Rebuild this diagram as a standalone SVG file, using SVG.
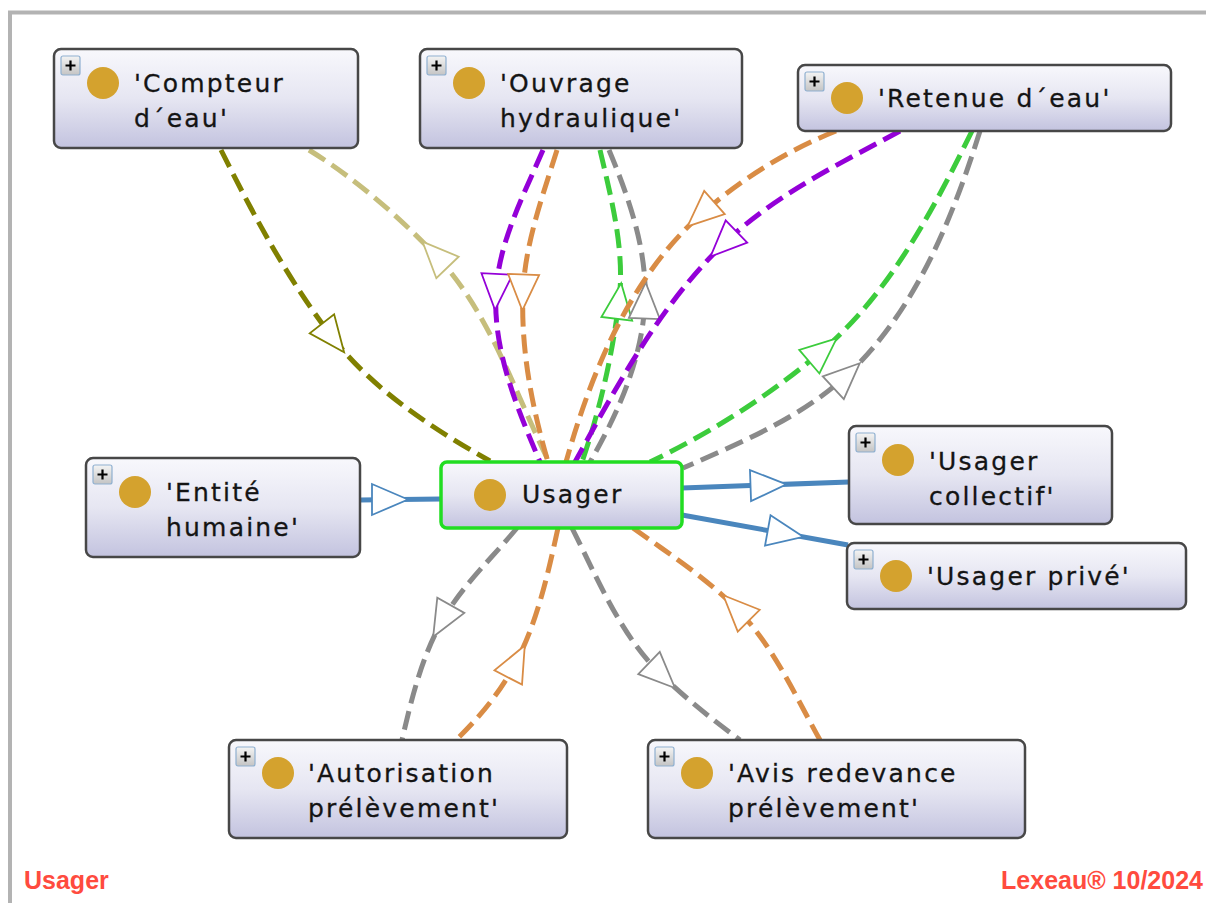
<svg xmlns="http://www.w3.org/2000/svg" xmlns:xlink="http://www.w3.org/1999/xlink" width="1206" height="903" viewBox="0 0 1206 903">
<style>
.box{fill:url(#nodeFill);stroke:#474747;stroke-width:2.5}
.sel{fill:url(#nodeFill);stroke:#22dd22;stroke-width:3.5}
.lbl{font-family:"DejaVu Sans","Noto Sans",sans-serif;font-size:25px;letter-spacing:2.2px;fill:#141414;stroke:#141414;stroke-width:0.3}
.dot{fill:#d4a22e}
.edge{fill:none;stroke-width:5;stroke-dasharray:19 8}
.isa{fill:none;stroke-width:5}
.ah{fill:#fff;stroke-width:1.8}
.olive{stroke:#808000}
.khaki{stroke:#c6be7c}
.purple{stroke:#9400d8}
.orange{stroke:#d98c45}
.green{stroke:#3ccc3c}
.gray{stroke:#8a8a8a}
.blue{stroke:#4a86bd}
.foot{font-family:"Liberation Sans",Arial,sans-serif;font-weight:bold;font-size:25px;fill:#ff4b3e}
</style>
<defs>
<linearGradient id="nodeFill" x1="0" y1="0" x2="0" y2="1">
<stop offset="0" stop-color="#f8f8fc"/>
<stop offset="0.5" stop-color="#e6e6f2"/>
<stop offset="1" stop-color="#c3c3df"/>
</linearGradient>
<linearGradient id="plusFill" x1="0" y1="0" x2="0" y2="1">
<stop offset="0" stop-color="#f4f4f4"/>
<stop offset="1" stop-color="#c4c4c4"/>
</linearGradient>
<path id="tri" d="M18,0 L-18,-15.5 L-18,15.5 Z"/>
<g id="plus">
<rect x="0" y="0" width="19" height="19" rx="2" fill="url(#plusFill)" stroke="#8fb0d0" stroke-width="1.2"/>
<path d="M4.5,9.5 H14.5 M9.5,4.5 V14.5" stroke="#000" stroke-width="2.2" fill="none"/>
</g>
</defs>

<rect x="0" y="0" width="1206" height="903" fill="#fff"/>
<path d="M10,903 V12.5 H1206" fill="none" stroke="#b3b3b3" stroke-width="4"/>

<g id="connectors">
<g class="olive"><path class="edge" d="M221,150 C253.6,215.3 288.2,280.4 333,338 C373.5,390.1 432.6,428.7 490,461"/><use class="ah" xlink:href="#tri" href="#tri" transform="translate(333,338) rotate(52)"/></g>
<g class="khaki"><path class="edge" d="M309,150 C355.5,178.7 397.2,215.1 435,254.5 C489.7,311.5 514.1,391.1 549,462"/><use class="ah" xlink:href="#tri" href="#tri" transform="translate(435,254.5) rotate(-134)"/></g>
<g class="purple"><path class="edge" d="M543,150 C523.3,195.9 498.8,242.2 496,292 C492.7,350.4 517.2,408.1 540,462"/><use class="ah" xlink:href="#tri" href="#tri" transform="translate(496,292) rotate(93)"/></g>
<g class="orange"><path class="edge" d="M557,150 C542.5,196.6 525,243.7 523,292.5 C520.7,349.5 532,407.2 548,462"/><use class="ah" xlink:href="#tri" href="#tri" transform="translate(523,292.5) rotate(92)"/></g>
<g class="green"><path class="edge" d="M600,150 C611.5,199.4 625.2,250.7 619,301 C612.3,355.6 599.9,410 582,462"/><use class="ah" xlink:href="#tri" href="#tri" transform="translate(619,301) rotate(-83)"/></g>
<g class="gray"><path class="edge" d="M609,150 C628.8,197.6 647,249 645,300.5 C642.8,357.3 618.5,412.7 590,462"/><use class="ah" xlink:href="#tri" href="#tri" transform="translate(645,300.5) rotate(-88)"/></g>
<g class="orange"><path class="edge" d="M836,131 C786.9,150.6 740.6,179.5 701,214.5 C630.6,276.7 591.5,371.5 566,462"/><use class="ah" xlink:href="#tri" href="#tri" transform="translate(701,214.5) rotate(138.5)"/></g>
<g class="purple"><path class="edge" d="M900,131 C838.6,164.3 773.8,195.5 723.5,244 C660.2,305 617.4,385 575,462"/><use class="ah" xlink:href="#tri" href="#tri" transform="translate(723.5,244) rotate(136)"/></g>
<g class="green"><path class="edge" d="M972,131 C933,210.2 890,292.5 823,350 C770.9,394.7 711.8,432.2 650,462"/><use class="ah" xlink:href="#tri" href="#tri" transform="translate(823,350) rotate(-40.6)"/></g>
<g class="gray"><path class="edge" d="M980,131 C952.1,219.6 914.7,312.4 846.5,375.5 C800.5,418 740.3,442.8 683,468"/><use class="ah" xlink:href="#tri" href="#tri" transform="translate(846.5,375.5) rotate(-42.8)"/></g>
<g class="gray"><path class="edge" d="M517,528 C491.5,558.6 461.5,586.3 442,621 C421.5,657.5 411.4,699.3 402,740"/><use class="ah" xlink:href="#tri" href="#tri" transform="translate(442,621) rotate(119.3)"/></g>
<g class="orange"><path class="edge" d="M558,528 C548,573.5 537.8,620.1 516.5,661.5 C501.4,690.8 479.8,717.2 456,740"/><use class="ah" xlink:href="#tri" href="#tri" transform="translate(516.5,661.5) rotate(-62.7)"/></g>
<g class="gray"><path class="edge" d="M572,528 C598,579.4 620.5,635.6 662,675.5 C686.3,698.9 712.9,719.9 740,740"/><use class="ah" xlink:href="#tri" href="#tri" transform="translate(662,675.5) rotate(43.9)"/></g>
<g class="orange"><path class="edge" d="M633,528 C668.4,553.3 705.2,577.2 736,608 C772.9,644.9 794.5,694.5 820,740"/><use class="ah" xlink:href="#tri" href="#tri" transform="translate(736,608) rotate(-135)"/></g>
<g class="blue"><path class="isa" d="M360,500 L441,499"/><use class="ah" xlink:href="#tri" href="#tri" transform="translate(390,499.5) rotate(0)"/></g>
<g class="blue"><path class="isa" d="M682,488 L849,482"/><use class="ah" xlink:href="#tri" href="#tri" transform="translate(768.5,485) rotate(-2)"/></g>
<g class="blue"><path class="isa" d="M682,515 L848,545"/><use class="ah" xlink:href="#tri" href="#tri" transform="translate(785.5,533.6) rotate(10.2)"/></g>
</g>

<g id="node-compteur" transform="translate(54,49)">
<rect class="box" width="304" height="99" rx="7"/>
<use xlink:href="#plus" href="#plus" x="7" y="7"/>
<circle class="dot" cx="49" cy="34" r="16"/>
<text class="lbl" x="80" y="43">'Compteur</text>
<text class="lbl" x="80" y="78">d´eau'</text>
</g>

<g id="node-ouvrage" transform="translate(420,49)">
<rect class="box" width="322" height="99" rx="7"/>
<use xlink:href="#plus" href="#plus" x="7" y="7"/>
<circle class="dot" cx="49" cy="34" r="16"/>
<text class="lbl" x="80" y="43">'Ouvrage</text>
<text class="lbl" x="80" y="78">hydraulique'</text>
</g>

<g id="node-retenue" transform="translate(798,65)">
<rect class="box" width="373" height="66" rx="7"/>
<use xlink:href="#plus" href="#plus" x="7" y="7"/>
<circle class="dot" cx="49" cy="33" r="16"/>
<text class="lbl" x="80" y="41.5">'Retenue d´eau'</text>
</g>

<g id="node-entite" transform="translate(86,458)">
<rect class="box" width="274" height="99" rx="7"/>
<use xlink:href="#plus" href="#plus" x="7" y="7"/>
<circle class="dot" cx="49" cy="34" r="16"/>
<text class="lbl" x="80" y="43">'Entité</text>
<text class="lbl" x="80" y="78">humaine'</text>
</g>

<g id="node-usager" transform="translate(441,462)">
<rect class="sel" width="241" height="66" rx="6"/>
<circle class="dot" cx="49" cy="33" r="16"/>
<text class="lbl" x="81" y="41">Usager</text>
</g>

<g id="node-usager-collectif" transform="translate(849,426)">
<rect class="box" width="263" height="98" rx="7"/>
<use xlink:href="#plus" href="#plus" x="7" y="7"/>
<circle class="dot" cx="49" cy="34" r="16"/>
<text class="lbl" x="80" y="44">'Usager</text>
<text class="lbl" x="80" y="79">collectif'</text>
</g>

<g id="node-usager-prive" transform="translate(847,543)">
<rect class="box" width="339" height="66" rx="7"/>
<use xlink:href="#plus" href="#plus" x="7" y="7"/>
<circle class="dot" cx="49" cy="33" r="16"/>
<text class="lbl" x="80" y="41.5">'Usager privé'</text>
</g>

<g id="node-autorisation" transform="translate(229,740)">
<rect class="box" width="338" height="98" rx="7"/>
<use xlink:href="#plus" href="#plus" x="7" y="7"/>
<circle class="dot" cx="49" cy="33" r="16"/>
<text class="lbl" x="79" y="42">'Autorisation</text>
<text class="lbl" x="79" y="77">prélèvement'</text>
</g>

<g id="node-avis" transform="translate(648,740)">
<rect class="box" width="377" height="98" rx="7"/>
<use xlink:href="#plus" href="#plus" x="7" y="7"/>
<circle class="dot" cx="49" cy="33" r="16"/>
<text class="lbl" x="80" y="42">'Avis redevance</text>
<text class="lbl" x="80" y="77">prélèvement'</text>
</g>

<text class="foot" x="24" y="889">Usager</text>
<text class="foot" x="1203" y="889" text-anchor="end">Lexeau® 10/2024</text>
</svg>
